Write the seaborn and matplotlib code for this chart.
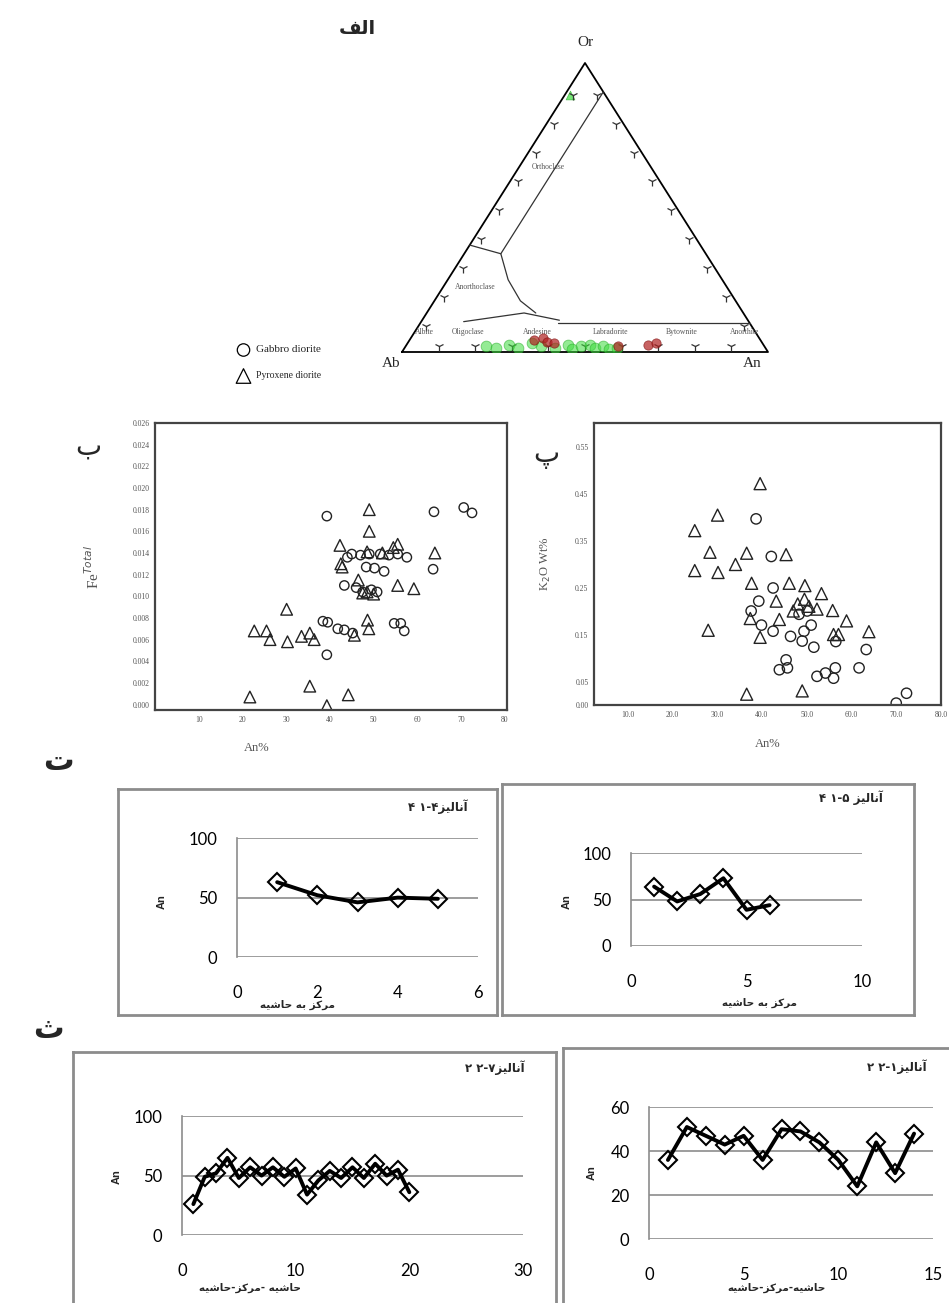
import numpy as np
import pandas as pd
import matplotlib
matplotlib.use("Agg")
import matplotlib.pyplot as plt
import seaborn as sns
from matplotlib.markers import MarkerStyle
from matplotlib.transforms import Affine2D

W, H = 949, 1303

# ---------------- data ----------------
# الف : ternary Ab-An-Or, values in percent (An, Or)
tern_green_an = [22, 25, 28, 31, 34, 37, 41, 44, 46, 48, 50, 52, 54, 56, 58]
tern_green_or = [2, 1.5, 2.5, 1.5, 3, 2, 1.5, 2.5, 1, 2, 2.5, 1.5, 2, 1, 1.5]
tern_red_an = [34, 36, 38, 40, 58, 66, 68]
tern_red_or = [4, 5, 3.5, 3, 2, 2.5, 3]
tern_top_an = [1.5]
tern_top_or = [89]

# field boundaries of the feldspar diagram (An, Or)
ortho_an = [10, 10, 0]
ortho_or = [90, 34, 37]
sanid_an = [10, 16.5, 23.5, 29.8]
sanid_or = [34, 25, 17.7, 13.5]
lower_an = [11.6, 26.6, 37.5]
lower_or = [10.5, 13.5, 11]
plag_an = [37.5, 90]
plag_or = [10, 10]

# ب : An% vs Fe total
fe_circ_an = [39.3, 63.8, 70.6, 72.5, 57.6, 63.6, 43.3, 48.3, 50.2, 52.4, 38.4, 39.5, 41.8, 43.3, 45.2,
              54.7, 56.2, 57.0, 39.3, 46.0, 47.5, 49.5, 50.8, 45.0, 47.0, 49.0, 51.5, 53.5, 55.5, 44.0]
fe_circ_fe = [0.0174, 0.0178, 0.0182, 0.0177, 0.0136, 0.0125, 0.0110, 0.0127, 0.0126, 0.0123, 0.0077,
              0.0076, 0.0070, 0.0069, 0.0066, 0.0075, 0.0075, 0.0068, 0.0046, 0.0108, 0.0104, 0.0106,
              0.0104, 0.0139, 0.0138, 0.0139, 0.0139, 0.0138, 0.0139, 0.0136]
fe_tri_an = [49, 49, 42.3, 55.5, 64, 55.5, 59.2, 42.5, 42.8, 30.1, 22.7, 25.5, 26.3, 30.3, 33.5, 35.4,
             36.4, 48.6, 48.9, 45.6, 35.4, 21.7, 44.2, 39.3, 46.5, 47.5, 48.5, 50.0, 48.5, 52.0, 54.5]
fe_tri_fe = [0.0180, 0.0160, 0.0147, 0.0148, 0.0140, 0.0110, 0.0107, 0.0130, 0.0127, 0.0088, 0.0068,
             0.0068, 0.0060, 0.0058, 0.0063, 0.0066, 0.0060, 0.0078, 0.0070, 0.0064, 0.0017, 0.0007,
             0.0009, -0.0001, 0.0115, 0.0103, 0.0104, 0.0102, 0.0141, 0.0140, 0.0145]

# پ : An% vs K2O wt%
k_tri_an = [39.6, 30.1, 25.0, 28.4, 36.6, 45.4, 34.1, 25.0, 30.2, 37.7, 46.1, 49.6, 53.3, 43.2, 55.8,
            52.3, 43.9, 37.4, 58.9, 63.9, 28.0, 39.6, 56.0, 57.1, 36.6, 49.0, 48.0, 49.5, 50.5, 47.0]
k_tri_k = [0.471, 0.404, 0.371, 0.325, 0.323, 0.320, 0.299, 0.286, 0.282, 0.259, 0.259, 0.254, 0.237,
           0.221, 0.201, 0.204, 0.182, 0.184, 0.179, 0.156, 0.159, 0.144, 0.150, 0.150, 0.023, 0.030,
           0.215, 0.225, 0.210, 0.200]
k_circ_an = [38.7, 42.1, 42.5, 39.3, 37.6, 39.9, 42.5, 46.4, 51.6, 63.3, 45.4, 43.9, 45.7, 52.3, 54.2,
             56.4, 56.0, 61.7, 70.0, 72.3, 48.3, 50.1, 49.4, 49.0, 51.0, 56.5]
k_circ_k = [0.396, 0.316, 0.249, 0.221, 0.200, 0.170, 0.157, 0.146, 0.123, 0.118, 0.096, 0.075, 0.079,
            0.061, 0.068, 0.079, 0.057, 0.079, 0.004, 0.025, 0.193, 0.200, 0.157, 0.136, 0.170, 0.135]

# ت / ث : An profiles
an_41_4 = [63, 52, 46, 50, 49]
an_41_5 = [64, 48, 56, 73, 39, 44]
an_22_7 = [26, 49, 52, 65, 48, 57, 50, 57, 49, 56, 34, 46, 54, 48, 57, 48, 60, 50, 55, 36]
an_22_1 = [36, 51, 47, 43, 47, 36, 50, 49, 44, 36, 24, 44, 30, 48]

# ---------------- persian text (manual shaping, visual order) ----------------
FORMS = {
    'ا': ('\uFE8D', '\uFE8E', None, None),
    'آ': ('\uFE81', '\uFE82', None, None),
    'ب': ('\uFE8F', '\uFE90', '\uFE91', '\uFE92'),
    'ت': ('\uFE95', '\uFE96', '\uFE97', '\uFE98'),
    'ث': ('\uFE99', '\uFE9A', '\uFE9B', '\uFE9C'),
    'ح': ('\uFEA1', '\uFEA2', '\uFEA3', '\uFEA4'),
    'ر': ('\uFEAD', '\uFEAE', None, None),
    'ز': ('\uFEAF', '\uFEB0', None, None),
    'ش': ('\uFEB5', '\uFEB6', '\uFEB7', '\uFEB8'),
    'ف': ('\uFED1', '\uFED2', '\uFED3', '\uFED4'),
    'ک': ('\uFED9', '\uFEDA', '\uFEDB', '\uFEDC'),
    'ل': ('\uFEDD', '\uFEDE', '\uFEDF', '\uFEE0'),
    'م': ('\uFEE1', '\uFEE2', '\uFEE3', '\uFEE4'),
    'ن': ('\uFEE5', '\uFEE6', '\uFEE7', '\uFEE8'),
    'ه': ('\uFEE9', '\uFEEA', '\uFEEB', '\uFEEC'),
    'ی': ('\uFEEF', '\uFEF0', '\uFEF3', '\uFEF4'),
}


def shape(word):
    out = []
    for i, ch in enumerate(word):
        f = FORMS.get(ch)
        if f is None:
            out.append(ch)
            continue
        prev = word[i - 1] if i > 0 else ''
        nxt = word[i + 1] if i < len(word) - 1 else ''
        jp = prev in FORMS and FORMS[prev][2] is not None
        jn = nxt in FORMS and f[2] is not None
        if jp and jn:
            out.append(f[3])
        elif jp:
            out.append(f[1])
        elif jn:
            out.append(f[2])
        else:
            out.append(f[0])
    return ''.join(out)


def rtl(text):
    return ' '.join(shape(w)[::-1] for w in text.split(' ')[::-1])


FA = ['DejaVu Sans']

# ---------------- figure ----------------
sns.set_style("white")
plt.rcParams['font.family'] = ['DejaVu Sans']

fig = plt.figure(figsize=(W / 100, H / 100), dpi=100)


def px(l, t, r, b):
    return [l / W, 1 - b / H, (r - l) / W, (b - t) / H]


def ftext(x, y, s, **kw):
    fig.text(x / W, 1 - y / H, s, ha=kw.pop('ha', 'center'), va=kw.pop('va', 'center'), **kw)


# panel letters
ftext(357, 28, rtl('الف'), fontsize=14, fontweight='bold', family=FA)
ftext(88, 447, rtl('ب'), fontsize=20, family=FA)
ftext(546, 455, rtl('پ'), fontsize=20, family=FA)
ftext(58, 762, rtl('ت'), fontsize=22, fontweight='bold', family=FA)
ftext(48, 1030, rtl('ث'), fontsize=22, fontweight='bold', family=FA)

# ---- الف ternary ----
axt = fig.add_axes(px(402, 63, 768, 352))
axt.axis('off')


def uv(an, orr):
    an = np.asarray(an, float) / 100
    orr = np.asarray(orr, float) / 100
    return an + orr / 2, orr


axt.plot([0, 1, 0.5, 0], [0, 0, 1, 0], color='k', lw=1.3, clip_on=False)
for a, o in [(ortho_an, ortho_or), (sanid_an, sanid_or), (lower_an, lower_or), (plag_an, plag_or)]:
    u, v = uv(a, o)
    axt.plot(u, v, color='#333', lw=0.9)

tk = np.arange(10, 100, 10)
u, v = uv(tk, np.zeros_like(tk))
axt.plot(u, v + 0.02, ls='none', marker='1', ms=7, color='#333', mew=0.9)
u, v = uv(np.zeros_like(tk), tk)
axt.plot(u + 0.016, v - 0.01, ls='none', ms=7, color='#333', mew=0.9,
         marker=MarkerStyle('1', transform=Affine2D().rotate_deg(-120)))
u, v = uv(100 - tk, tk)
axt.plot(u - 0.016, v - 0.01, ls='none', ms=7, color='#333', mew=0.9,
         marker=MarkerStyle('1', transform=Affine2D().rotate_deg(120)))

u, v = uv(tern_green_an, tern_green_or)
sns.scatterplot(x=u, y=v, ax=axt, s=60, color='#3ddc3d', edgecolor='#22aa22', alpha=0.55, zorder=3)
u, v = uv(tern_red_an, tern_red_or)
sns.scatterplot(x=u, y=v, ax=axt, s=45, color='#b02020', edgecolor='#801010', alpha=0.7, zorder=4)
u, v = uv(tern_top_an, tern_top_or)
sns.scatterplot(x=u, y=v, ax=axt, s=40, marker='^', color='#3ddc3d', edgecolor='#22aa22', alpha=0.7)
axt.set_xlim(0, 1)
axt.set_ylim(0, 1)

tf = dict(family=['Liberation Serif'], color='#555', fontsize=5.5, ha='center', va='center')
axt.text(0.40, 0.64, 'Orthoclase', **tf)
axt.text(0.20, 0.224, 'Anorthoclase', **tf)
for x, s in [(0.06, 'Albite'), (0.18, 'Oligoclase'), (0.37, 'Andesine'), (0.57, 'Labradorite'),
             (0.765, 'Bytownite'), (0.935, 'Anorthite')]:
    axt.text(x, 0.07, s, **tf)
cf = dict(family=['Liberation Serif'], fontsize=11, ha='center', va='center')
ftext(585, 43, 'Or', **cf)
ftext(391, 363, 'Ab', **cf)
ftext(752, 363, 'An', **cf)

# legend
lg = fig.add_axes(px(230, 338, 260, 388))
lg.set_xlim(0, 1)
lg.set_ylim(0, 1)
lg.axis('off')
lg.scatter([0.45], [0.76], s=80, marker='o', facecolors='none', edgecolors='k', linewidths=0.9)
lg.scatter([0.45], [0.24], s=110, marker='^', facecolors='none', edgecolors='k', linewidths=0.9)
ftext(256, 350, 'Gabbro diorite', family=['Liberation Serif'], fontsize=8, ha='left')
ftext(256, 376, 'Pyroxene diorite', family=['Liberation Serif'], fontsize=7, ha='left')


# ---- scatter panels ----
def scatter_box(ax):
    for s in ax.spines.values():
        s.set_color('#444')
        s.set_linewidth(1.6)
    ax.tick_params(length=0, labelsize=5.5, colors='#555', pad=4)
    for lab in ax.get_xticklabels() + ax.get_yticklabels():
        lab.set_family(['Liberation Serif'])


axb = fig.add_axes(px(155, 423, 507, 710))
sns.scatterplot(x=fe_circ_an, y=fe_circ_fe, marker='o', s=45, facecolors='none', edgecolor='#222',
                linewidth=1, ax=axb)
sns.scatterplot(x=fe_tri_an, y=fe_tri_fe, marker='^', s=70, facecolors='none', edgecolor='#222',
                linewidth=1, ax=axb)
axb.set_xlim(0, 80.5)
axb.set_ylim(-0.0005, 0.026)
axb.set_xticks(range(10, 81, 10))
yt = np.arange(0, 0.0261, 0.002)
axb.set_yticks(yt)
axb.set_yticklabels([f"{v:.3f}" for v in yt])
scatter_box(axb)
axb.set_ylabel('Fe$^{Total}$', family=['Liberation Serif'], fontsize=11, color='#555', labelpad=22)
axb.set_xlabel('An%', family=['Liberation Serif'], fontsize=9, color='#555', labelpad=14)
axb.xaxis.set_label_coords(0.29, -0.11)

axp = fig.add_axes(px(594, 423, 941, 705))
sns.scatterplot(x=k_circ_an, y=k_circ_k, marker='o', s=55, facecolors='none', edgecolor='#222',
                linewidth=1, ax=axp)
sns.scatterplot(x=k_tri_an, y=k_tri_k, marker='^', s=75, facecolors='none', edgecolor='#222',
                linewidth=1, ax=axp)
axp.set_xlim(2.5, 80)
axp.set_ylim(0, 0.6)
axp.set_xticks(range(10, 81, 10))
axp.set_xticklabels([f"{v:.1f}" for v in range(10, 81, 10)])
ykt = [0.0, 0.05, 0.15, 0.25, 0.35, 0.45, 0.55]
axp.set_yticks(ykt)
axp.set_yticklabels([f"{v:.2f}" for v in ykt])
scatter_box(axp)
axp.set_ylabel('K$_2$O Wt%', family=['Liberation Serif'], fontsize=9, color='#555', labelpad=16)
axp.set_xlabel('An%', family=['Liberation Serif'], fontsize=9, color='#555', labelpad=14)


# ---- An profiles ----
def profile(frame, plot, values, xmax, xstep, ymax, ystep, title, tpos, apos, xlab, xpos):
    fr = fig.add_axes(px(*frame))
    fr.set_xticks([])
    fr.set_yticks([])
    for s in fr.spines.values():
        s.set_color('#8c8c8c')
        s.set_linewidth(2)
    ax = fig.add_axes(px(*plot))
    ax.patch.set_alpha(0)
    df = pd.DataFrame({'x': np.arange(1, len(values) + 1), 'An': values})
    sns.lineplot(data=df, x='x', y='An', ax=ax, color='black', lw=2.8, marker='D', ms=9,
                 mfc='none', mec='black', mew=1.5)
    ax.set_xlim(0, xmax)
    ax.set_ylim(0, ymax * 1.002)
    ax.set_xticks(np.arange(0, xmax + 1, xstep))
    ax.set_yticks(np.arange(0, ymax + 1, ystep))
    ax.grid(axis='y', color='#8c8c8c', lw=1.2)
    ax.set_axisbelow(True)
    for k in ['top', 'right', 'bottom']:
        ax.spines[k].set_visible(False)
    ax.spines['left'].set_color('#8c8c8c')
    ax.spines['left'].set_linewidth(1.2)
    ax.tick_params(length=0, labelsize=12, colors='black')
    ax.tick_params(axis='x', pad=20)
    ax.tick_params(axis='y', pad=14)
    for lab in ax.get_xticklabels() + ax.get_yticklabels():
        lab.set_family(['Lato'])
    ax.set_xlabel('')
    ax.set_ylabel('')
    ftext(tpos[0], tpos[1], title, family=FA, fontsize=8.5, fontweight='bold', ha='right')
    ftext(apos[0], apos[1], 'An', family=['Liberation Sans'], fontsize=8, fontweight='bold', rotation=90)
    ftext(xpos[0], xpos[1], rtl(xlab), family=FA, fontsize=7.5, fontweight='bold')


word = rtl('آنالیز')
profile((118, 789, 497, 1015), (237, 838, 478, 957), an_41_4, 6, 2, 100, 50,
        '۴ ۱-۴' + word, (468, 807), (162, 902), 'مرکز به حاشیه', (298, 1005))
profile((502, 784, 914, 1015), (631, 853, 862, 946), an_41_5, 10, 5, 100, 50,
        '۴ ۱-۵ ' + word, (883, 798), (567, 902), 'مرکز به حاشیه', (760, 1003))
profile((73, 1052, 556, 1310), (182, 1116, 523, 1235), an_22_7, 30, 10, 100, 50,
        '۲ ۲-۷' + word, (525, 1068), (117, 1177), 'حاشیه -مرکز-حاشیه', (250, 1288))
profile((563, 1048, 960, 1310), (649, 1107, 933, 1239), an_22_1, 15, 5, 60, 20,
        '۲ ۲-۱' + word, (927, 1067), (592, 1173), 'حاشیه-مرکز-حاشیه', (777, 1288))

fig.savefig('out.png', dpi=100)
